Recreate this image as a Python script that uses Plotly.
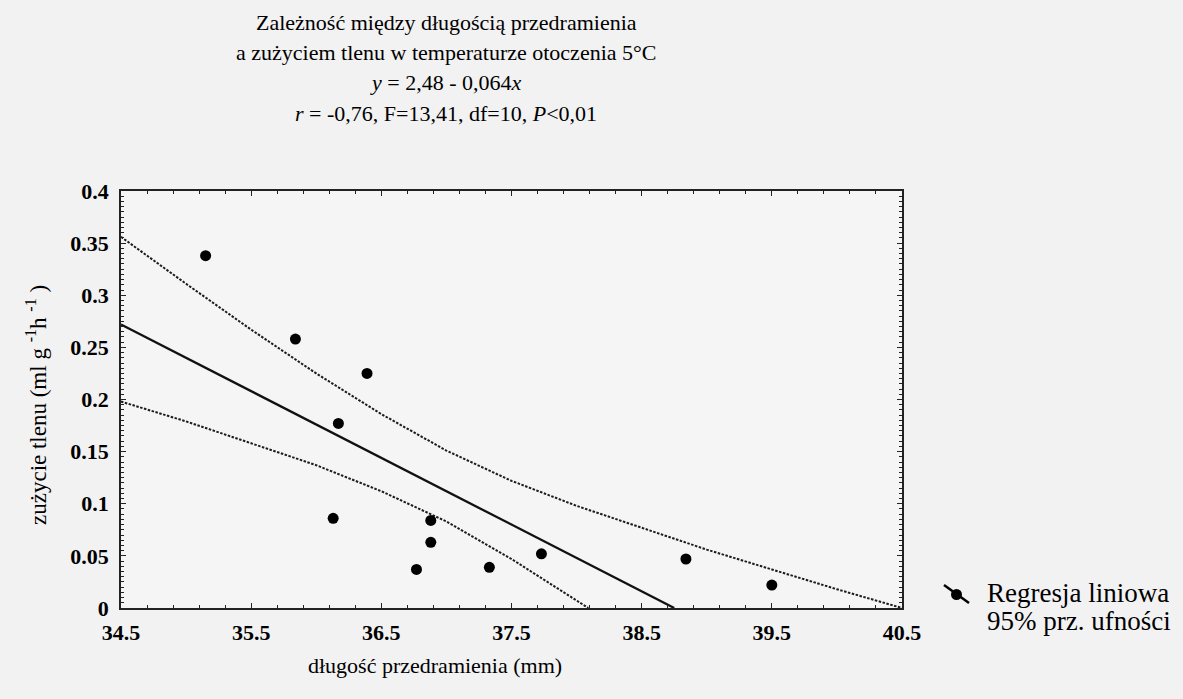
import plotly.graph_objects as go

# Forearm length (mm) and oxygen consumption (ml g^-1 h^-1) at 5 °C
forearm_mm = [35.15, 35.84, 36.39, 36.17, 36.13, 36.88, 36.88, 36.77, 37.33, 37.73, 38.84, 39.50]
oxygen_use = [0.338, 0.258, 0.225, 0.177, 0.086, 0.084, 0.063, 0.037, 0.039, 0.052, 0.047, 0.022]

# Regression y = a - b*x
intercept = 2.48
slope = 0.064

# 95% confidence band
band_x = [34.5, 35.0, 35.5, 36.0, 36.5, 37.0, 37.5, 38.0, 38.5, 39.0, 39.5, 40.0, 40.5]
band_upper = [0.356, 0.311, 0.267, 0.225, 0.186, 0.151, 0.122, 0.098, 0.077, 0.056, 0.037, 0.018, 0.0]
band_lower_x = [34.5, 35.0, 35.5, 36.0, 36.5, 37.0, 37.5, 38.0, 38.09]
band_lower = [0.198, 0.179, 0.158, 0.137, 0.112, 0.083, 0.047, 0.007, 0.0]

x_ticks = [34.5, 35.5, 36.5, 37.5, 38.5, 39.5, 40.5]

FONT = "Liberation Serif"

# regression line drawn from the left edge to where it meets zero
line_x = [34.5, intercept / slope]
line_y = [intercept - slope * v for v in line_x]

fig = go.Figure()
band_style = dict(color="#1c1c1c", width=2, dash="2.5px,1.5px")
fig.add_trace(go.Scatter(x=band_x, y=band_upper, mode="lines", line=band_style, hoverinfo="skip"))
fig.add_trace(go.Scatter(x=band_lower_x, y=band_lower, mode="lines", line=band_style, hoverinfo="skip"))
fig.add_trace(go.Scatter(x=line_x, y=line_y, mode="lines",
                         line=dict(color="#111111", width=2.3)))
fig.add_trace(go.Scatter(x=forearm_mm, y=oxygen_use, mode="markers",
                         marker=dict(color="black", size=11, line=dict(width=0))))

title_lines = [
    ("Zależność między długością przedramienia", 22),
    ("a zużyciem tlenu w temperaturze otoczenia 5°C", 52),
    ("<i>y</i> = 2,48 - 0,064<i>x</i>", 82),
    ("<i>r</i> = -0,76, F=13,41, df=10, <i>P</i>&lt;0,01", 113),
]

L, R, T, B = 121, 902, 191, 608
W, H = 1183, 699


def px_x(p):
    return (p - L) / (R - L)


def px_y(p):
    return (B - p) / (B - T)


annotations = []
for text, ypix in title_lines:
    annotations.append(dict(text=text, x=px_x(446), y=px_y(ypix), xref="paper", yref="paper",
                            xanchor="center", yanchor="middle", showarrow=False,
                            font=dict(family=FONT, size=22, color="black")))

annotations.append(dict(text="zużycie tlenu (ml g <sup>-1</sup>h <sup>-1</sup> )", textangle=-90,
                        x=px_x(36), y=px_y(405), xref="paper", yref="paper",
                        xanchor="center", yanchor="middle", showarrow=False,
                        font=dict(family=FONT, size=23, color="black")))
annotations.append(dict(text="długość przedramienia (mm)",
                        x=px_x(435), y=px_y(665), xref="paper", yref="paper",
                        xanchor="center", yanchor="middle", showarrow=False,
                        font=dict(family=FONT, size=22, color="black")))

# legend entries
annotations.append(dict(text="Regresja liniowa", x=px_x(985), y=px_y(593), xref="paper", yref="paper",
                        xanchor="left", yanchor="middle", showarrow=False,
                        font=dict(family=FONT, size=27, color="black")))
annotations.append(dict(text="95% prz. ufności", x=px_x(985), y=px_y(621), xref="paper", yref="paper",
                        xanchor="left", yanchor="middle", showarrow=False,
                        font=dict(family=FONT, size=27, color="black")))

shapes = [
    dict(type="line", xref="paper", yref="paper",
         x0=px_x(944), y0=px_y(585), x1=px_x(969), y1=px_y(603),
         line=dict(color="black", width=2.5)),
    dict(type="circle", xref="paper", yref="paper",
         x0=px_x(951), y0=px_y(589), x1=px_x(962), y1=px_y(600),
         fillcolor="black", line=dict(color="black", width=0)),
]

axis_common = dict(
    showgrid=False, zeroline=False, showline=True, linecolor="#222", linewidth=1.8,
    mirror="allticks", ticks="inside", tickcolor="#222", tickwidth=1.4, ticklen=5,
    tickfont=dict(family=FONT, size=22, color="black", weight="bold"),
)

fig.update_layout(
    width=W, height=H,
    margin=dict(l=L, r=W - R, t=T, b=H - B),
    paper_bgcolor="#f2f2f2", plot_bgcolor="#f5f5f5",
    showlegend=False,
    annotations=annotations,
    shapes=shapes,
    xaxis=dict(range=[34.5, 40.5], tickvals=x_ticks, ticktext=[f"{v:.1f}" for v in x_ticks],
               ticklabelstandoff=4,
               minor=dict(dtick=0.2, tick0=34.5, ticks="inside", ticklen=3, tickcolor="#222", tickwidth=1.2),
               **axis_common),
    yaxis=dict(range=[0, 0.4], dtick=0.05, tick0=0, ticklabelstandoff=6,
               minor=dict(dtick=0.005, tick0=0, ticks="inside", ticklen=3, tickcolor="#222", tickwidth=1.2),
               **axis_common),
)

fig.write_html("out.html")
